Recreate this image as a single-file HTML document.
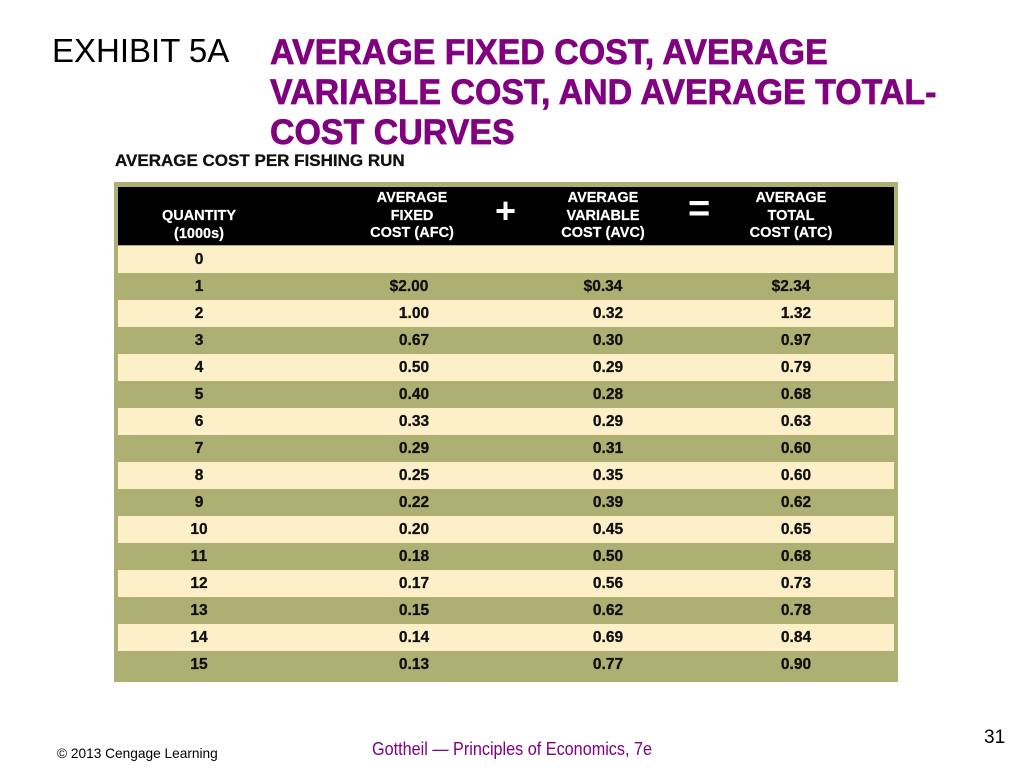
<!DOCTYPE html>
<html><head><meta charset="utf-8"><style>
body{margin:0;width:1024px;height:768px;background:#fff;position:relative;overflow:hidden;font-family:"Liberation Sans",Arial,sans-serif}
.a{position:absolute;white-space:nowrap}
.t{color:#800080;font-weight:bold;font-size:35px;-webkit-text-stroke:0.7px #800080;transform:scaleX(0.97);transform-origin:left top;left:270px}
.row{position:absolute;left:118px;width:776px;height:27px}
.c{position:absolute;top:0;line-height:27px;font-weight:bold;font-size:15.5px;-webkit-text-stroke:0.3px #111;color:#111;transform:translateX(-50%)}
.h{position:absolute;color:#fff;font-weight:bold;font-size:14.5px;-webkit-text-stroke:0.2px #fff;text-align:center;line-height:17.5px;transform:translateX(-50%)}
</style></head><body>
<div class="a" style="left:52px;top:32px;font-size:33px;color:#000">EXHIBIT 5A</div>
<div class="a t" style="top:33px">AVERAGE FIXED COST, AVERAGE</div>
<div class="a t" style="top:73px">VARIABLE COST, AND AVERAGE TOTAL-</div>
<div class="a t" style="top:113px">COST CURVES</div>
<div class="a" style="left:115px;top:151px;font-size:17px;font-weight:bold;-webkit-text-stroke:0.3px #111;color:#111">AVERAGE COST PER FISHING RUN</div>
<div class="a" style="left:114px;top:182px;width:784px;height:500px;background:#aeaf72"></div>
<div class="a" style="left:118px;top:187px;width:776px;height:58px;background:#000"></div>
<div class="h" style="left:199px;top:208px">QUANTITY<br>(1000s)</div>
<div class="h" style="left:412px;top:190px">AVERAGE<br>FIXED<br>COST (AFC)</div>
<div class="h" style="left:603px;top:190px">AVERAGE<br>VARIABLE<br>COST (AVC)</div>
<div class="h" style="left:791px;top:190px">AVERAGE<br>TOTAL<br>COST (ATC)</div>
<div class="a" style="left:495px;top:190px;color:#fff;font-weight:bold;font-size:36px">+</div>
<div class="a" style="left:688px;top:188px;color:#fff;font-weight:bold;font-size:38px">=</div>
<div id="rows"></div>
<script>
var d=[["0","","",""],["1","$2.00","$0.34","$2.34"],["2","1.00","0.32","1.32"],["3","0.67","0.30","0.97"],["4","0.50","0.29","0.79"],["5","0.40","0.28","0.68"],["6","0.33","0.29","0.63"],["7","0.29","0.31","0.60"],["8","0.25","0.35","0.60"],["9","0.22","0.39","0.62"],["10","0.20","0.45","0.65"],["11","0.18","0.50","0.68"],["12","0.17","0.56","0.73"],["13","0.15","0.62","0.78"],["14","0.14","0.69","0.84"],["15","0.13","0.77","0.90"]];
var h="";d.forEach(function(r,i){var top=246+i*27;var bg=i%2==0?"background:#fdf0c8;":"";
var off=(i==1)?0:5;
h+='<div class="row" style="top:'+top+'px;'+bg+'"><div class="c" style="left:81px">'+r[0]+'</div><div class="c" style="left:'+(291+off)+'px">'+r[1]+'</div><div class="c" style="left:'+(485+off)+'px">'+r[2]+'</div><div class="c" style="left:'+(673+off)+'px">'+r[3]+'</div></div>';});
document.getElementById("rows").innerHTML=h;
</script>
<div class="a" style="left:57px;top:746px;font-size:13.7px;color:#000">© 2013 Cengage Learning</div>
<div class="a" style="left:372px;top:739px;font-size:18px;color:#800080;transform:scaleX(0.9);transform-origin:left top">Gottheil — Principles of Economics, 7e</div>
<div class="a" style="left:984px;top:727px;font-size:19px;color:#000">31</div>
</body></html>
